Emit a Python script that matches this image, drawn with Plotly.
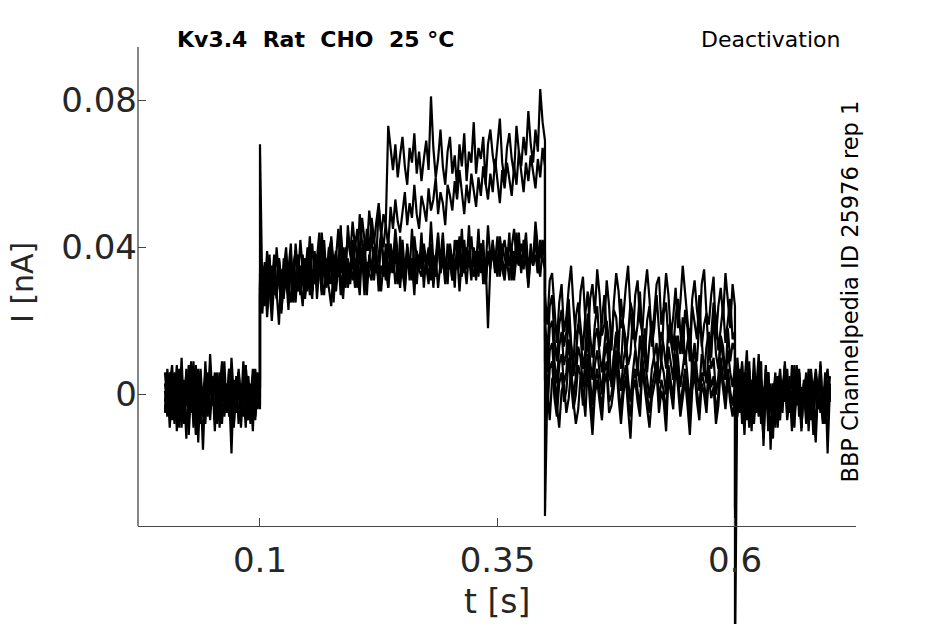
import numpy as np
import plotly.graph_objects as go

# ---- recording protocol (epoch boundaries, s) and sample interval ----
epoch_edges = [0.0, 0.1, 0.4, 0.6, 0.7]
sample_dt = 0.0025

# ---- sweep currents in pA; epochs: pre-hold (41) | activation (121) | tail (81) | post-hold (41) ----
sweep1_pre = [3, -4, 6, -2, -7, 5, 1, -9, 4, -3,
              8, -5, 0, -11, 6, 2, -6, 9, -3, 4,
              -2, 5, -8, 1, 7, -4, 3, -6, 10, -1,
              -5, 4, -9, 2, 6, -3, -7, 5, 0, -4,
              2]
sweep1_act = [68, 27, 34, 24, 36, 30, 38, 28, 33, 22,
              31, 36, 29, 25, 35, 39, 33, 27, 37, 31,
              40, 34, 29, 38, 26, 35, 41, 32, 37, 30,
              43, 35, 39, 33, 44, 37, 31, 46, 38, 34,
              43, 35, 49, 41, 36, 45, 39, 48, 42, 37,
              51, 44, 40, 47, 73, 66, 61, 68, 59, 65,
              70, 62, 57, 67, 63, 71, 60, 66, 58, 64,
              69, 61, 81, 67, 59, 64, 72, 62, 57, 66,
              70, 60, 65, 56, 68, 62, 71, 58, 66, 63,
              74, 60, 67, 64, 70, 57, 68, 72, 65, 61,
              69, 75, 63, 58, 67, 71, 64, 60, 73, 66,
              62, 70, 65, 77, 68, 63, 72, 66, 83, 74,
              69]
sweep1_tail = [27, 19, 31, 33, 22, 14, 25, 30, 17, 21,
               29, 35, 24, 15, 18, 28, 32, 20, 13, 26,
               30, 22, 34, 27, 16, 19, 31, 24, 12, 25,
               33, 28, 18, 21, 29, 35, 23, 15, 27, 31,
               20, 17, 28, 34, 26, 14, 22, 30, 32, 19,
               24, 33, 27, 16, 21, 29, 18, 25, 35, 28,
               20, 13, 26, 31, 23, 17, 30, 34, 22, 19,
               27, 32, 15, 24, 29, 21, 33, 26, 18, 30,
               24]
sweep1_post = [-75, 5, -3, 8, -6, 2, -9, 4, 0, -5,
               7, -2, -12, 3, 6, -4, 1, -8, 5, -1,
               -3, 9, -6, 2, -10, 4, -2, 7, -5, 1,
               -8, 3, 6, -4, -13, 2, 5, -7, 0, 4,
               -2]

sweep2_pre = [-5, 7, -1, 4, -8, 2, -3, 10, -6, 1,
              -4, 5, -9, 3, -2, 7, -5, 0, 6, -7,
              3, -10, 4, -1, 8, -6, 2, -3, 5, -8,
              1, 6, -4, 9, -2, -7, 3, -5, 7, 0,
              -3]
sweep2_act = [31, 26, 35, 28, 38, 25, 33, 30, 37, 27,
              34, 40, 29, 36, 32, 39, 30, 42, 34, 37,
              28, 35, 41, 31, 38, 33, 44, 36, 30, 39,
              42, 34, 37, 45, 33, 40, 36, 43, 38, 47,
              40, 45, 37, 48, 42, 39, 50, 44, 41, 47,
              52, 43, 49, 46, 40, 51, 45, 53, 47, 44,
              50, 55, 46, 52, 48, 57, 49, 45, 54, 51,
              47, 56, 50, 53, 59, 49, 55, 52, 46, 57,
              54, 50, 58, 53, 61, 55, 49, 57, 52, 60,
              56, 51, 59, 54, 62, 57, 53, 60, 55, 64,
              58, 52, 61, 56, 63, 59, 54, 62, 57, 66,
              60, 55, 63, 58, 65, 61, 56, 64, 59, 67,
              62]
sweep2_tail = [20, 11, 24, 27, 15, 9, 19, 23, 13, 17,
               26, 14, 8, 21, 25, 18, 12, 22, 28, 16,
               10, 19, 24, 13, 20, 27, 17, 9, 15, 23,
               21, 12, 26, 18, 11, 16, 25, 22, 14, 19,
               28, 15, 10, 20, 24, 13, 18, 27, 16, 8,
               22, 25, 14, 19, 12, 21, 26, 17, 11, 23,
               18, 9, 24, 20, 15, 27, 13, 19, 22, 10,
               16, 25, 21, 12, 18, 24, 14, 20, 26, 15,
               17]
sweep2_post = [-31, 10, 2, -5, 6, -2, 9, -7, 3, 1,
               -6, 4, -3, 8, -10, 2, -4, 5, -1, -7,
               4, -2, 7, -5, 1, -9, 3, 6, -3, 0,
               5, -6, 2, -11, 4, -1, 8, -4, 1, -6,
               3]

sweep3_pre = [1, -6, 3, 8, -4, -1, 6, -7, 2, -12,
              5, -2, 9, -5, 3, -8, 1, 4, -6, 11,
              -1, -4, 6, -9, 2, 5, -3, 7, -6, 0,
              4, -8, 3, -2, 8, -5, 1, -10, 6, -3,
              2]
sweep3_act = [29, 22, 33, 26, 37, 24, 31, 28, 19, 34,
              27, 32, 23, 36, 30, 25, 35, 29, 38, 27,
              33, 30, 26, 39, 31, 35, 28, 42, 32, 29,
              24, 34, 30, 37, 27, 33, 40, 29, 35, 31,
              37, 33, 27, 40, 34, 30, 36, 45, 31, 38,
              28, 35, 32, 41, 29, 36, 33, 39, 30, 43,
              33, 29, 41, 35, 37, 30, 39, 34, 44, 32,
              36, 40, 31, 38, 35, 43, 33, 37, 30, 41,
              34, 38, 29, 42, 36, 32, 40, 35, 46, 33,
              37, 31, 39, 35, 42, 30, 38, 34, 41, 36,
              32, 43, 37, 33, 40, 35, 39, 31, 44, 36,
              38, 34, 41, 30, 39, 36, 43, 33, 40, 37,
              35]
sweep3_tail = [15, 6, 18, 20, 9, 3, 13, 17, 8, 11,
               21, 14, 5, 10, 19, 16, 7, 12, 22, 9,
               4, 15, 18, 11, 6, 13, 20, 14, 2, 10,
               17, 12, 7, 19, 15, 8, 11, 21, 13, 5,
               16, 10, 18, 6, 14, 20, 9, 3, 12, 17,
               13, 7, 19, 15, 10, 4, 16, 11, 21, 8,
               14, 18, 6, 12, 9, 20, 15, 5, 13, 17,
               10, 22, 11, 7, 16, 13, 4, 18, 9, 14,
               12]
sweep3_post = [4, -2, 7, -8, 3, 12, -4, 1, -6, 5,
               -2, 9, -14, 2, 6, -5, 3, -9, 1, 7,
               -2, 5, -7, 0, 4, -3, 8, -6, 2, -1,
               6, -10, 3, -4, 7, 1, -5, 2, -8, 4,
               -1]

sweep4_pre = [-2, 4, -9, 1, 6, -5, 3, -1, -8, 7,
              -3, 2, -6, 8, -13, 4, -2, 6, -4, 1,
              5, -7, 2, -3, 9, -5, 0, 4, -8, 3,
              -1, 6, -4, 2, -9, 5, -2, 7, -6, 1,
              4]
sweep4_act = [33, 28, 36, 21, 30, 35, 27, 40, 31, 25,
              37, 29, 34, 41, 26, 32, 38, 30, 24, 36,
              33, 43, 28, 35, 31, 37, 27, 39, 34, 30,
              38, 25, 36, 32, 41, 35, 29, 37, 33, 42,
              30, 36, 31, 39, 34, 27, 38, 33, 40, 35,
              31, 43, 37, 34, 29, 39, 35, 42, 36, 32,
              40, 28, 37, 33, 45, 35, 30, 38, 34, 41,
              36, 31, 39, 29, 37, 44, 33, 38, 35, 30,
              41, 36, 33, 39, 28, 37, 42, 34, 38, 31,
              40, 35, 45, 33, 37, 30, 39, 36, 42, 34,
              38, 32, 41, 37, 35, 44, 31, 39, 36, 40,
              33, 42, 37, 29, 38, 35, 43, 36, 32, 40,
              37]
sweep4_tail = [9, 1, 12, 14, 4, -2, 8, 11, 3, 6,
               15, 7, -1, 5, 13, 10, 2, 9, 16, 4,
               -3, 8, 12, 6, 0, 10, 14, 5, 3, 11,
               17, 7, 1, 9, 13, 4, -2, 6, 12, 8,
               2, 15, 10, 5, -1, 7, 11, 14, 3, 9,
               6, 0, 13, 8, 4, 16, 10, 2, 7, 12,
               5, -3, 9, 14, 6, 1, 11, 8, 3, 13,
               7, 10, 0, 5, 15, 9, 4, 12, 6, 2,
               8]
sweep4_post = [2, 6, -5, 1, -11, 4, 7, -3, 10, -1,
               5, -8, 2, -4, 6, -15, 3, 0, -6, 4,
               1, 8, -3, 5, -7, 2, -1, 6, -9, 3,
               -4, 7, 0, -6, 4, -2, 9, -5, 2, -3,
               5]

sweep5_pre = [6, -3, 2, -7, 4, -10, 7, 0, -4, 3,
              -6, 9, -2, 5, -7, 1, -15, 3, -5, 8,
              -3, 4, -1, 6, -8, 2, -4, 7, -2, -9,
              5, 1, -6, 3, 8, -3, -1, 4, -7, 2,
              -4]
sweep5_act = [27, 32, 24, 35, 29, 20, 31, 26, 36, 23,
              30, 34, 27, 38, 25, 31, 28, 35, 30, 26,
              37, 32, 28, 34, 29, 40, 31, 27, 36, 33,
              30, 38, 28, 35, 32, 26, 37, 34, 30, 39,
              29, 35, 32, 38, 27, 36, 33, 31, 40, 37,
              34, 28, 36, 31, 42, 33, 38, 30, 35, 29,
              37, 33, 40, 31, 36, 27, 39, 34, 32, 38,
              35, 30, 41, 33, 37, 29, 36, 40, 32, 35,
              38, 31, 37, 34, 43, 33, 36, 30, 39, 35,
              32, 38, 34, 41, 30, 37, 18, 35, 39, 33,
              36, 42, 34, 31, 38, 35, 40, 32, 37, 44,
              34, 39, 36, 31, 41, 35, 38, 33, 42, 37,
              34]
sweep5_tail = [4, -5, 7, 9, -1, -6, 3, 6, -2, 1,
               10, 2, -4, 0, 8, 5, -3, 4, 11, -1,
               -7, 3, 7, 1, -4, 6, 9, -2, 0, 5,
               12, 2, -5, 4, 8, -1, -6, 3, 7, 1,
               -3, 10, 5, 0, -5, 2, 6, 9, -2, 4,
               1, -6, 8, 3, -1, 11, 5, -3, 2, 7,
               0, -7, 4, 9, 1, -4, 6, 3, -2, 8,
               2, 5, -5, 0, 10, 4, -1, 7, 1, -3,
               3]
sweep5_post = [-1, 8, -4, 3, 5, -7, 2, -10, 6, -3,
               1, 4, -6, 7, -2, 3, -12, 5, -4, 2,
               -5, 6, 0, -3, 8, -6, 1, 4, -9, 3,
               -2, 5, -7, 2, 6, -4, 0, -8, 3, 7,
               -2]

sweep6_pre = [-4, 2, -6, 5, -1, 8, -9, 4, -2, 6,
              -11, 1, 4, -5, 7, -3, 2, -8, 5, -4,
              0, 6, -7, 3, -2, 9, -5, 1, -16, 4,
              -3, 7, -1, -6, 3, 5, -8, 2, -4, 6,
              -1]
sweep6_act = [30, 35, 27, 39, 31, 24, 34, 29, 37, 32,
              26, 38, 30, 35, 28, 41, 33, 29, 36, 31,
              39, 27, 34, 30, 37, 44, 32, 36, 29, 40,
              34, 31, 38, 33, 46, 30, 37, 35, 32, 41,
              36, 29, 39, 34, 42, 31, 37, 35, 40, 33,
              38, 44, 34, 39, 32, 41, 36, 45, 38, 35,
              42, 33, 39, 36, 31, 43, 37, 34, 40, 29,
              38, 35, 47, 36, 32, 41, 37, 44, 34, 39,
              36, 31, 42, 38, 35, 45, 33, 40, 37, 43,
              35, 39, 32, 41, 38, 34, 46, 37, 40, 36,
              43, 33, 39, 42, 36, 31, 40, 45, 37, 35,
              41, 38, 44, 34, 39, 36, 47, 40, 37, 42,
              39]
sweep6_tail = [-33, 2, -7, 4, 6, -3, -9, 1, 3, -5,
               -1, 7, -2, -8, -4, 5, 1, -6, 8, -3,
               -11, 0, 4, -2, -7, 3, 6, -5, -3, 2,
               9, -1, -8, 0, 5, -4, -12, 1, 4, -2,
               -6, 7, 2, -3, -9, -1, 3, 6, -5, 1,
               -2, -10, 5, 0, -4, 8, 2, -6, -1, 4,
               -3, -11, 1, 6, -2, -7, 3, 0, -5, 5,
               -1, 2, -8, -3, 7, 1, -4, 4, -2, -6,
               0]
sweep6_post = [3, -6, 1, 9, -3, 6, -1, 3, -8, 2,
               11, -5, 0, 4, -7, 1, -2, 6, -9, 3,
               -1, 5, -4, 2, -6, 8, -3, 0, -10, 4,
               2, -5, 7, -2, -8, 3, 1, -4, 6, -16,
               2]

x_tick_vals = [0.1, 0.35, 0.6]
x_tick_text = ["0.1", "0.35", "0.6"]
y_tick_vals = [0.0, 0.04, 0.08]
y_tick_text = ["0", "0.04", "0.08"]

title_text = "<b>Kv3.4\u00a0\u00a0Rat\u00a0\u00a0CHO\u00a0\u00a025\u00a0°C</b>"
protocol_text = "Deactivation"
source_text = "BBP Channelpedia ID 25976 rep 1"
x_label = "t [s]"
y_label = "I [nA]"

# ---- time base of the recording (one sample grid per epoch) ----
epoch_times = []
for a, b in zip(epoch_edges[:-1], epoch_edges[1:]):
    n = int(round((b - a) / sample_dt)) + 1
    epoch_times.append(np.linspace(a, b, n))

sweeps = [
    (sweep1_pre, sweep1_act, sweep1_tail, sweep1_post),
    (sweep2_pre, sweep2_act, sweep2_tail, sweep2_post),
    (sweep3_pre, sweep3_act, sweep3_tail, sweep3_post),
    (sweep4_pre, sweep4_act, sweep4_tail, sweep4_post),
    (sweep5_pre, sweep5_act, sweep5_tail, sweep5_post),
    (sweep6_pre, sweep6_act, sweep6_tail, sweep6_post),
]

FONT = "DejaVu Sans"
TXT = "#262626"
AX = "#444444"

# the page places the figure 8 px in from the window's corner
OFF = 8
W, H = 945 - OFF, 624 - OFF
ml, mt, mb = 138 - OFF, 47 - OFF, 0
mr = W - (856 - OFF)
plot_h = H - mt - mb
axis_px = 526 - OFF
x_axis_pos = (H - axis_px) / plot_h

fig = go.Figure()
for si, parts in enumerate(sweeps):
    xs, ys = [], []
    for ep, (tt, vals) in enumerate(zip(epoch_times, parts)):
        assert len(tt) == len(vals), f"sweep {si+1} epoch {ep}: {len(vals)} != {len(tt)}"
        xs.extend(tt.tolist())
        ys.extend(v / 1000.0 for v in vals)
    fig.add_trace(go.Scatter(x=xs, y=ys, mode="lines",
                             line=dict(color="black", width=2.2),
                             showlegend=False, hoverinfo="skip"))

fig.update_layout(
    width=W, height=H,
    margin=dict(l=ml, r=mr, t=mt, b=mb, pad=0),
    paper_bgcolor="white", plot_bgcolor="white",
    font=dict(family=FONT, color=TXT),
    xaxis=dict(range=[-0.0284, 0.7274], anchor="free", position=x_axis_pos,
               tickvals=x_tick_vals, ticktext=x_tick_text,
               showline=True, linecolor=AX, linewidth=1.3,
               ticks="inside", ticklen=8, tickwidth=1.3, tickcolor=AX,
               ticklabelstandoff=4,
               showgrid=False, zeroline=False,
               tickfont=dict(size=34, family=FONT, color=TXT)),
    yaxis=dict(range=[-0.06236, 0.09443], domain=[0, 1],
               tickvals=y_tick_vals, ticktext=y_tick_text,
               showline=False,
               ticks="inside", ticklen=8, tickwidth=1.3, tickcolor=AX,
               showgrid=False, zeroline=False,
               tickfont=dict(size=34, family=FONT, color=TXT)),
    shapes=[dict(type="line", xref="paper", yref="paper", x0=0, x1=0,
                 y0=x_axis_pos, y1=1, line=dict(color=AX, width=1.3))],
)

def px_x(px):  # reference pixel column -> paper x
    return (px - OFF - ml) / (W - ml - mr)

def px_y(py):  # reference pixel row -> paper y
    return (H - mb - (py - OFF)) / plot_h

fig.add_annotation(text=title_text, xref="paper", yref="paper", x=px_x(175), y=1,
                   xanchor="left", yanchor="bottom", yshift=-7, showarrow=False,
                   font=dict(size=22, family=FONT, color="black"))
fig.add_annotation(text=protocol_text, xref="paper", yref="paper", x=px_x(842), y=1,
                   xanchor="right", yanchor="bottom", yshift=-7, showarrow=False,
                   font=dict(size=22, family=FONT, color="black"))
fig.add_annotation(text=source_text, xref="paper", yref="paper", x=px_x(849), y=px_y(291.5),
                   xanchor="center", yanchor="middle", textangle=-90, showarrow=False,
                   font=dict(size=22.5, family=FONT, color="black"))
fig.add_annotation(text=y_label, xref="paper", yref="paper", x=px_x(22), y=px_y(283),
                   xanchor="center", yanchor="middle", textangle=-90, showarrow=False,
                   font=dict(size=30, family=FONT, color=TXT))
fig.add_annotation(text=x_label, xref="paper", yref="paper", x=px_x(497), y=px_y(601),
                   xanchor="center", yanchor="middle", showarrow=False,
                   font=dict(size=33, family=FONT, color=TXT))

fig.write_html("out.html")
